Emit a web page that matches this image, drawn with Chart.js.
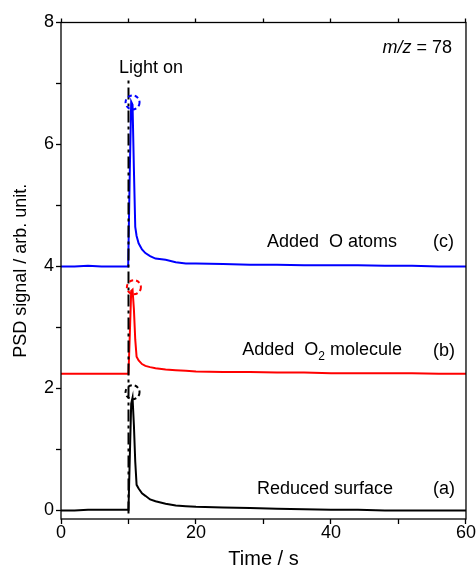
<!DOCTYPE html>
<html>
<head>
<meta charset="utf-8">
<script src="https://cdn.jsdelivr.net/npm/chart.js@4/dist/chart.umd.min.js"></script>
<style>
  html, body { margin: 0; padding: 0; background: #fff; }
  #wrap { width: 476px; height: 569px; }
</style>
</head>
<body>
<div id="wrap"><canvas id="psd" width="476" height="569"></canvas></div>
<script>
// time axis (s), shared by the three traces
const timeS = [0, 2, 4, 6, 8, 9.95, 10.0, 10.2, 10.4, 10.6, 10.8, 11.0, 11.2, 11.5, 12.0, 12.5, 13.2, 14.0, 15.5, 17.0, 18.5, 20, 24, 28, 32, 36, 40, 44, 48, 52, 56, 60];

// (a) reduced surface
const reducedSurface = [0.00, 0.00, 0.01, 0.01, 0.01, 0.01, 0.02, 0.9, 1.75, 1.85, 1.4, 0.8, 0.42, 0.36, 0.28, 0.24, 0.18, 0.15, 0.11, 0.08, 0.07, 0.06, 0.05, 0.04, 0.03, 0.02, 0.01, 0.01, 0.00, 0.00, 0.00, 0.00];
// (b) added O2 molecule
const addedO2 = [2.24, 2.24, 2.24, 2.24, 2.24, 2.24, 2.25, 2.9, 3.6, 3.62, 3.3, 2.8, 2.52, 2.46, 2.40, 2.37, 2.35, 2.33, 2.31, 2.30, 2.29, 2.28, 2.27, 2.27, 2.26, 2.26, 2.25, 2.25, 2.25, 2.25, 2.24, 2.24];
// (c) added O atoms
const addedO = [4.00, 4.00, 4.01, 4.00, 4.00, 4.00, 4.00, 5.6, 6.7, 6.65, 5.6, 4.65, 4.50, 4.38, 4.28, 4.22, 4.17, 4.13, 4.11, 4.07, 4.05, 4.05, 4.04, 4.03, 4.03, 4.02, 4.02, 4.02, 4.01, 4.01, 4.00, 4.00];

// light-on marker
const lightOnT = [10, 10];
const lightOnV = [-0.05, 7.08];

// dashed rings at the peak tops: (a), (b), (c)
const peakT = [10.6, 10.8, 10.6];
const peakV = [1.94, 3.66, 6.69];

const xTicks = [0, 10, 20, 30, 40, 50, 60];
const xLabels = [0, 20, 40, 60];
const yTicks = [0, 1, 2, 3, 4, 5, 6, 7, 8];
const yLabels = [0, 2, 4, 6, 8];

const seriesColors = ["#000000", "#ff0000", "#0000ff"];
const FONT = '"Liberation Sans", Arial, sans-serif';

function pts(xs, ys) { return xs.map((x, i) => ({ x, y: ys[i] })); }

const frame = {
  id: "frame",
  afterDatasetsDraw(chart) {
    const { ctx, chartArea: a, scales } = chart;
    ctx.save();
    // dashed rings
    ctx.lineWidth = 2;
    ctx.setLineDash([4, 3]);
    peakT.forEach((t, i) => {
      const px = scales.x.getPixelForValue(t), py = scales.y.getPixelForValue(peakV[i]);
      ctx.strokeStyle = seriesColors[i];
      ctx.beginPath();
      ctx.ellipse(px, py, 7, 7, 0, 0, Math.PI * 2);
      ctx.stroke();
    });
    ctx.setLineDash([]);
    // box
    ctx.strokeStyle = "#000";
    ctx.lineWidth = 1.3;
    ctx.strokeRect(a.left, a.top, a.right - a.left, a.bottom - a.top);
    ctx.restore();
  },
  afterDraw(chart) {
    const ctx = chart.ctx;
    ctx.save();
    ctx.fillStyle = "#000";
    ctx.textBaseline = "alphabetic";
    ctx.font = "18px " + FONT;

    ctx.textAlign = "center";
    ctx.fillText("Light on", 151, 73);

    // m/z = 78
    ctx.textAlign = "left";
    ctx.font = "italic 18px " + FONT;
    const w1 = ctx.measureText("m/z").width;
    ctx.font = "18px " + FONT;
    const w2 = ctx.measureText(" = 78").width;
    let x0 = 452 - w1 - w2;
    ctx.font = "italic 18px " + FONT;
    ctx.fillText("m/z", x0, 53);
    ctx.font = "18px " + FONT;
    ctx.fillText(" = 78", x0 + w1, 53);

    // curve labels
    ctx.textAlign = "right";
    ctx.fillText("Added  O atoms", 397, 247);
    ctx.fillText("Reduced surface", 393, 494);

    // Added O2 molecule with subscript
    ctx.textAlign = "left";
    const a1 = ctx.measureText("Added  O").width;
    const a3 = ctx.measureText(" molecule").width;
    ctx.font = "12px " + FONT;
    const a2 = ctx.measureText("2").width;
    x0 = 402 - a1 - a2 - a3;
    ctx.font = "18px " + FONT;
    ctx.fillText("Added  O", x0, 355);
    ctx.font = "12px " + FONT;
    ctx.fillText("2", x0 + a1, 360);
    ctx.font = "18px " + FONT;
    ctx.fillText(" molecule", x0 + a1 + a2, 355);

    ctx.fillText("(c)", 433, 247);
    ctx.fillText("(b)", 433, 356);
    ctx.fillText("(a)", 433, 494);
    ctx.restore();
  }
};

const lineStyle = { borderWidth: 2, pointRadius: 0, tension: 0, fill: false };

new Chart(document.getElementById("psd"), {
  type: "line",
  data: {
    datasets: [
      { ...lineStyle, data: pts(lightOnT, lightOnV), borderColor: "#000", borderDash: [12, 4, 3, 4] },
      { ...lineStyle, data: pts(timeS, reducedSurface), borderColor: seriesColors[0] },
      { ...lineStyle, data: pts(timeS, addedO2), borderColor: seriesColors[1] },
      { ...lineStyle, data: pts(timeS, addedO), borderColor: seriesColors[2] }
    ]
  },
  options: {
    responsive: false,
    devicePixelRatio: 1,
    animation: false,
    layout: { padding: { left: 0, right: 10, top: 0, bottom: 0 } },
    plugins: { legend: { display: false }, tooltip: { enabled: false } },
    scales: {
      x: {
        type: "linear", position: "bottom", min: 0, max: 60,
        afterBuildTicks: s => { s.ticks = xTicks.map(v => ({ value: v })); },
        afterFit: s => { s.height = 50; },
        border: { display: false },
        grid: { drawOnChartArea: false, color: "#000", tickLength: 5, tickWidth: 1.3 },
        ticks: {
          color: "#000", font: { size: 18, family: FONT, lineHeight: 1 }, padding: 0, maxRotation: 0,
          callback: v => xLabels.includes(v) ? String(v) : ""
        },
        title: { display: true, text: "Time / s", color: "#000", font: { size: 20, family: FONT, lineHeight: 1 }, padding: 0 }
      },
      x2: {
        type: "linear", position: "top", min: 0, max: 60,
        afterBuildTicks: s => { s.ticks = xTicks.map(v => ({ value: v })); },
        afterFit: s => { s.height = 22.5; },
        border: { display: false },
        grid: { drawOnChartArea: false, color: "#000", tickLength: 4, tickWidth: 1.3 },
        ticks: { display: false }
      },
      y: {
        type: "linear", position: "left", min: -0.14, max: 8,
        afterBuildTicks: s => { s.ticks = yTicks.map(v => ({ value: v })); },
        afterFit: s => { s.width = 61; },
        border: { display: false },
        grid: { drawOnChartArea: false, color: "#000", tickLength: 5, tickWidth: 1.3 },
        ticks: {
          color: "#000", font: { size: 18, family: FONT }, padding: 2,
          callback: v => yLabels.includes(v) ? String(v) : ""
        },
        title: { display: true, text: "PSD signal / arb. unit.", color: "#000", font: { size: 18, family: FONT, lineHeight: 1 }, padding: { top: 12 } }
      }
    }
  },
  plugins: [frame]
});
</script>
</body>
</html>
